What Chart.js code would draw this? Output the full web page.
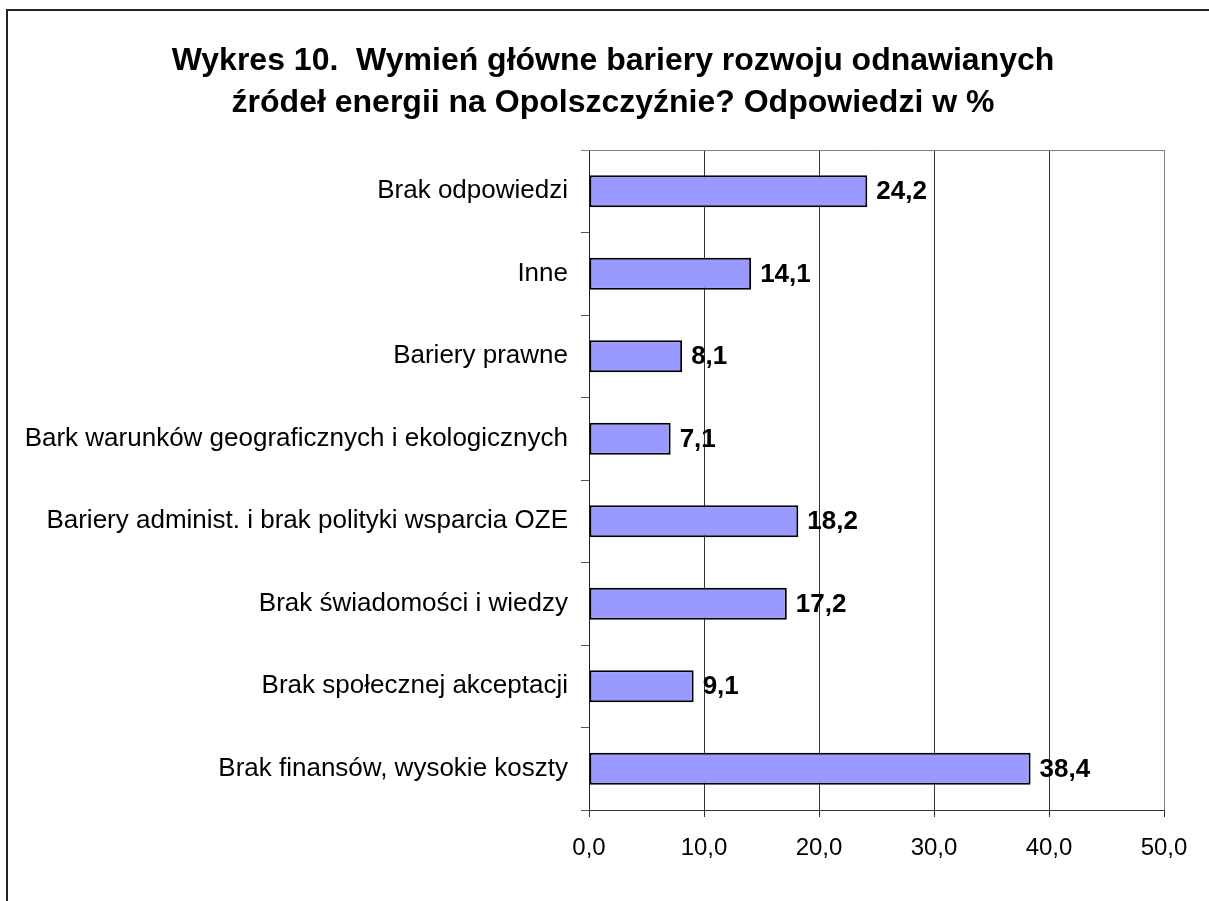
<!DOCTYPE html>
<html>
<head>
<meta charset="utf-8">
<script src="https://cdn.jsdelivr.net/npm/chart.js@4"></script>
<style>
    html, body { margin: 0; padding: 0; background: #fff; overflow: hidden; }
    #frame { position: absolute; left: 6px; top: 9px; width: 1300px; height: 1000px; border: 2px solid #222; }
    #wrap { position: absolute; left: 0; top: 0; width: 1209px; height: 901px; }
</style>
</head>
<body>
<div id="frame"></div>
<div id="wrap"><canvas id="chart" width="1209" height="901"></canvas></div>
<script>
const titleLines = ['Wykres 10.  Wymień główne bariery rozwoju odnawianych', 'źródeł energii na Opolszczyźnie? Odpowiedzi w %'];
const categories = [
    'Brak odpowiedzi',
    'Inne',
    'Bariery prawne',
    'Bark warunków geograficznych i ekologicznych',
    'Bariery administ. i brak polityki wsparcia OZE',
    'Brak świadomości i wiedzy',
    'Brak społecznej akceptacji',
    'Brak finansów, wysokie koszty'
];
const values = [24.2, 14.1, 8.1, 7.1, 18.2, 17.2, 9.1, 38.4];
const xTicks = [0, 10, 20, 30, 40, 50];

const FONT = '"Liberation Sans", Arial, sans-serif';
const fmt = v => v.toFixed(1).replace('.', ',');

// title drawn by hand so it can sit off-centre like the original
const titleText = {
    id: 'titleText',
    afterDraw(chart) {
        const {ctx} = chart;
        ctx.save();
        ctx.font = 'bold 32px ' + FONT;
        ctx.fillStyle = '#000';
        ctx.textAlign = 'center';
        ctx.textBaseline = 'alphabetic';
        titleLines.forEach((line, i) => ctx.fillText(line, 613, 70 + i * 42));
        ctx.restore();
    }
};

// gray top and right edges of the plot area
const plotEdges = {
    id: 'plotEdges',
    afterDraw(chart) {
        const {ctx, chartArea: a} = chart;
        ctx.save();
        ctx.strokeStyle = '#808080';
        ctx.lineWidth = 1;
        ctx.beginPath();
        ctx.moveTo(a.left - 8, a.top + 0.5);
        ctx.lineTo(a.right + 0.5, a.top + 0.5);
        ctx.lineTo(a.right + 0.5, a.bottom);
        ctx.stroke();
        ctx.restore();
    }
};

const valueLabels = {
    id: 'valueLabels',
    afterDatasetsDraw(chart) {
        const {ctx} = chart;
        const meta = chart.getDatasetMeta(0);
        ctx.save();
        ctx.font = 'bold 26px ' + FONT;
        ctx.fillStyle = '#000';
        ctx.textAlign = 'left';
        ctx.textBaseline = 'middle';
        meta.data.forEach((bar, i) => {
            ctx.fillText(fmt(values[i]), bar.x + 9, bar.y + 1);
        });
        ctx.restore();
    }
};

new Chart(document.getElementById('chart'), {
    type: 'bar',
    data: {
        labels: categories,
        datasets: [{
            data: values,
            backgroundColor: '#9999FF',
            borderColor: '#000',
            borderWidth: 2,
            borderSkipped: false,
            barPercentage: 0.39,
            categoryPercentage: 1
        }]
    },
    options: {
        indexAxis: 'y',
        responsive: false,
        animation: false,
        layout: {padding: {left: 0, right: 45, top: 150, bottom: 0}},
        plugins: {
            legend: {display: false},
            tooltip: {enabled: false},
            title: {display: false}
        },
        scales: {
            x: {
                min: 0,
                max: 50,
                afterBuildTicks: scale => { scale.ticks = xTicks.map(v => ({value: v})); },
                afterFit: scale => { scale.height = 91; },
                grid: {
                    color: ctx => ctx.tick && ctx.tick.value === 50 ? '#808080' : '#333',
                    tickColor: '#333',
                    tickLength: 7,
                    lineWidth: 1
                },
                border: {color: '#333', width: 1},
                ticks: {
                    color: '#000',
                    font: {family: FONT, size: 24},
                    padding: 17,
                    maxRotation: 0,
                    callback: v => fmt(v)
                }
            },
            y: {
                afterFit: scale => { scale.width = 589; },
                grid: {
                    offset: true,
                    drawOnChartArea: false,
                    tickColor: '#555',
                    tickLength: 8
                },
                border: {color: '#222', width: 1},
                ticks: {
                    color: '#000',
                    font: {family: FONT, size: 26},
                    padding: 13
                }
            }
        }
    },
    plugins: [plotEdges, valueLabels, titleText]
});
</script>
</body>
</html>
